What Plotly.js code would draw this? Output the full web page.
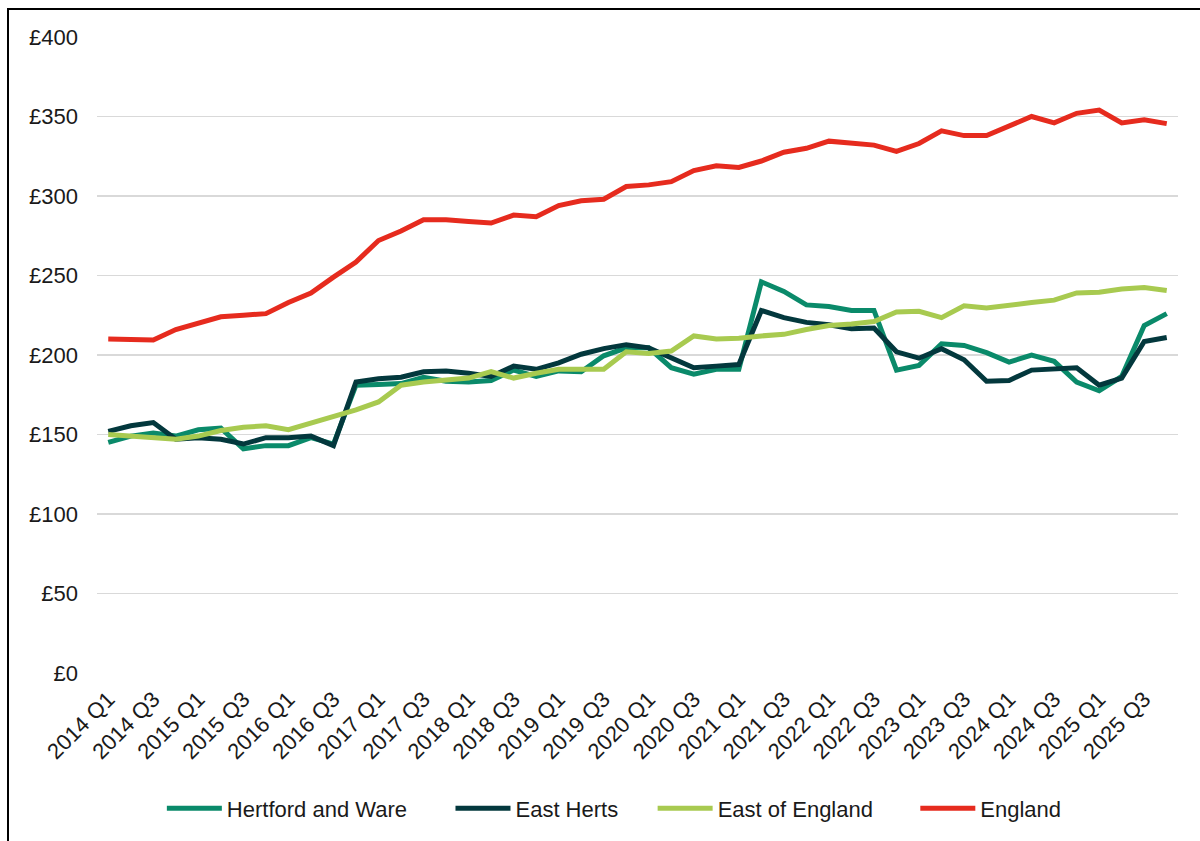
<!DOCTYPE html>
<html>
<head>
<meta charset="utf-8">
<script src="https://cdn.plot.ly/plotly-3.0.1.min.js"></script>
<style>
  html, body { margin: 0; padding: 0; background: #fff; overflow: hidden; }
  #chart { position: absolute; left: 0; top: 0; width: 1200px; height: 841px; }
  #frame { position: absolute; left: 7px; top: 8px; width: 1400px; height: 1000px;
           border-left: 2px solid #000; border-top: 2px solid #000; pointer-events: none; }
</style>
</head>
<body>
<div id="chart"></div>
<div id="frame"></div>
<script>
const quarters = [
  "2014 Q1","2014 Q2","2014 Q3","2014 Q4","2015 Q1","2015 Q2","2015 Q3","2015 Q4",
  "2016 Q1","2016 Q2","2016 Q3","2016 Q4","2017 Q1","2017 Q2","2017 Q3","2017 Q4",
  "2018 Q1","2018 Q2","2018 Q3","2018 Q4","2019 Q1","2019 Q2","2019 Q3","2019 Q4",
  "2020 Q1","2020 Q2","2020 Q3","2020 Q4","2021 Q1","2021 Q2","2021 Q3","2021 Q4",
  "2022 Q1","2022 Q2","2022 Q3","2022 Q4","2023 Q1","2023 Q2","2023 Q3","2023 Q4",
  "2024 Q1","2024 Q2","2024 Q3","2024 Q4","2025 Q1","2025 Q2","2025 Q3","2025 Q4"
];

const hertfordWare = [
  145, 149, 151, 149, 153, 154, 141, 143,
  143, 148, 144, 181, 181.5, 182, 186, 183.5,
  183, 184, 190.5, 186.5, 190, 189.5, 199.5, 204.5,
  204.5, 192, 188, 191, 191, 246, 240, 231.5,
  230.5, 228, 228, 190.5, 193.5, 207, 206, 201.5,
  195.5, 200, 196, 183, 177.5, 186.5, 218.5, 226
];

const eastHerts = [
  152, 155.5, 157.5, 147, 148, 147, 144, 148,
  148, 149, 143, 183, 185, 186, 189.5, 190,
  188.5, 186.5, 193, 191, 195, 200.5, 204, 206.5,
  204.5, 198, 192, 193, 194, 228, 223.5, 220.5,
  219, 216.5, 217, 202, 198, 204, 197, 183.5,
  184, 190.5, 191, 192, 181, 185.5, 208.5, 211
];

const eastOfEngland = [
  150, 149, 148.5, 147, 149, 152.5, 154.5, 155.5,
  153, 157, 161.5, 165.5, 170.5, 181, 183, 184.5,
  185.5, 189.5, 185.5, 188.5, 191, 191, 191, 202,
  201, 202.5, 212, 210, 210.5, 212, 213, 216,
  218.5, 219.5, 221, 227, 227.5, 223.5, 231, 229.5,
  231.5, 233, 234.5, 239, 239.5, 241.5, 242.5, 240.5
];

const england = [
  210, 210, 209.5, 216, 220, 224, 225, 226,
  233, 239, 249, 258.5, 272, 278, 285, 285,
  284, 283, 288, 287, 294, 297, 298, 306,
  307, 309, 316, 319, 318, 322, 327.5, 330,
  334.5, 333, 332, 328, 333, 341, 338, 338,
  344, 350, 346, 352, 354, 346, 348, 345.5
];

const seriesNames = ["Hertford and Ware", "East Herts", "East of England", "England"];
const seriesColors = ["#0a8a6a", "#03383d", "#a8ca50", "#e62b1e"];
const seriesValues = [hertfordWare, eastHerts, eastOfEngland, england];

const tickLabels = quarters.filter((q, i) => i % 2 === 0);

const FONT = "Liberation Sans, Arial, sans-serif";
const legendIds = ["legend", "legend2", "legend3", "legend4"];
const legendX = [0.060, 0.327, 0.514, 0.757];

const traces = seriesValues.map((vals, k) => ({
  type: "scatter",
  mode: "lines",
  name: seriesNames[k],
  x: quarters,
  y: vals,
  legend: legendIds[k],
  line: { color: seriesColors[k], width: 5 },
  hoverinfo: "x+y+name"
}));

const layout = {
  width: 1200,
  height: 841,
  margin: { l: 97, r: 22, t: 37, b: 165 },
  paper_bgcolor: "#ffffff",
  plot_bgcolor: "#ffffff",
  font: { family: FONT, size: 22, color: "#1a1a1a" },
  showlegend: true,
  xaxis: {
    type: "category",
    categoryorder: "array",
    categoryarray: quarters,
    range: [-0.5, quarters.length - 0.5],
    tickmode: "array",
    tickvals: tickLabels,
    ticktext: tickLabels,
    tickangle: -45,
    showgrid: false,
    zeroline: false,
    showline: false,
    ticks: "",
    ticklabelstandoff: 8,
    tickfont: { family: FONT, size: 22, color: "#1a1a1a" },
    fixedrange: true
  },
  yaxis: {
    range: [0, 400],
    dtick: 50,
    tick0: 0,
    tickprefix: "£",
    showgrid: true,
    gridcolor: "#d9d9d9",
    gridwidth: 1.5,
    zeroline: false,
    showline: false,
    ticks: "",
    ticklabelstandoff: 18,
    tickfont: { family: FONT, size: 22, color: "#1a1a1a" },
    fixedrange: true
  }
};

legendIds.forEach((id, k) => {
  layout[id] = {
    orientation: "h",
    x: legendX[k], xanchor: "left",
    y: -0.18, yanchor: "top",
    font: { family: FONT, size: 22, color: "#1a1a1a" },
    itemwidth: 55,
    bgcolor: "rgba(0,0,0,0)"
  };
});

Plotly.newPlot("chart", traces, layout, { displayModeBar: false, staticPlot: true });
</script>
</body>
</html>
